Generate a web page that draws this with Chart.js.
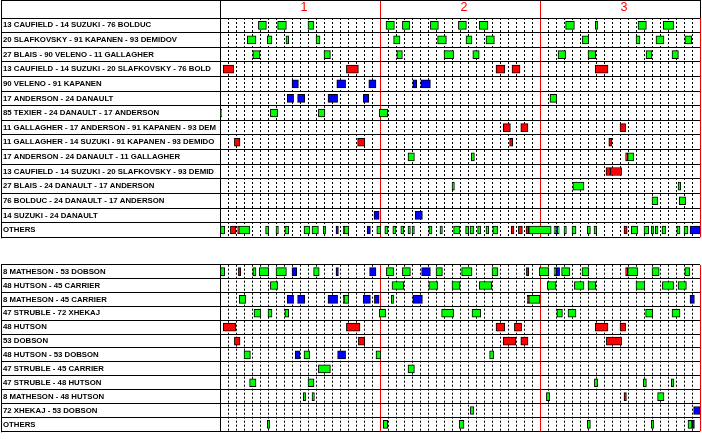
<!DOCTYPE html>
<html><head><meta charset="utf-8">
<script src="https://cdn.jsdelivr.net/npm/chart.js@4.4.0/dist/chart.umd.min.js"></script>
<style>
html,body{margin:0;padding:0;background:#fff;}
body{width:702px;height:439px;position:relative;overflow:hidden;}
canvas{position:absolute;left:0;}
#c1{top:0;} #c2{top:257px;}
</style></head><body>
<canvas id="c1" width="702" height="245"></canvas>
<canvas id="c2" width="702" height="182"></canvas>
<script>
// ---------- DATA ----------
const topRows = [
  '13 CAUFIELD - 14 SUZUKI - 76 BOLDUC',
  '20 SLAFKOVSKY - 91 KAPANEN - 93 DEMIDOV',
  '27 BLAIS - 90 VELENO - 11 GALLAGHER',
  '13 CAUFIELD - 14 SUZUKI - 20 SLAFKOVSKY - 76 BOLD',
  '90 VELENO - 91 KAPANEN',
  '17 ANDERSON - 24 DANAULT',
  '85 TEXIER - 24 DANAULT - 17 ANDERSON',
  '11 GALLAGHER - 17 ANDERSON - 91 KAPANEN - 93 DEM',
  '11 GALLAGHER - 14 SUZUKI - 91 KAPANEN - 93 DEMIDO',
  '17 ANDERSON - 24 DANAULT - 11 GALLAGHER',
  '13 CAUFIELD - 14 SUZUKI - 20 SLAFKOVSKY - 93 DEMID',
  '27 BLAIS - 24 DANAULT - 17 ANDERSON',
  '76 BOLDUC - 24 DANAULT - 17 ANDERSON',
  '14 SUZUKI - 24 DANAULT',
  'OTHERS'
];
const bottomRows = [
  '8 MATHESON - 53 DOBSON',
  '48 HUTSON - 45 CARRIER',
  '8 MATHESON - 45 CARRIER',
  '47 STRUBLE - 72 XHEKAJ',
  '48 HUTSON',
  '53 DOBSON',
  '48 HUTSON - 53 DOBSON',
  '47 STRUBLE - 45 CARRIER',
  '47 STRUBLE - 48 HUTSON',
  '8 MATHESON - 48 HUTSON',
  '72 XHEKAJ - 53 DOBSON',
  'OTHERS'
];
// [rowIndex, startMinute, endMinute]
const topEven = [
  [0,4.8,5.8],[0,7.2,8.3],[0,11.0,11.7],[0,20.75,21.8],[0,22.8,23.7],[0,26.3,27.3],[0,29.8,30.8],[0,32.4,33.5],[0,43.2,44.3],[0,46.9,47.2],[0,52.25,53.3],[0,55.4,56.7],
  [1,3.4,4.5],[1,5.9,6.5],[1,8.25,8.6],[1,12.0,12.5],[1,21.7,22.5],[1,27.2,28.3],[1,30.75,31.5],[1,33.25,34.3],[1,45.3,46.1],[1,52.0,52.5],[1,54.5,55.5],[1,58.1,58.96],
  [2,4.1,5.0],[2,13.0,13.8],[2,22.1,22.8],[2,28.0,29.2],[2,31.6,32.4],[2,42.25,43.2],[2,46.0,46.96],[2,53.25,54.0],[2,56.5,57.3],
  [5,41.25,42.1],
  [6,0,0.2],[6,6.3,7.2],[6,12.3,13.1],[6,19.9,20.96],
  [9,23.5,24.3],[9,31.4,31.8],[9,50.96,51.7],
  [11,29.0,29.3],[11,44.1,45.5],[11,57.25,57.6],
  [12,54.0,54.7],[12,57.4,58.2],
  [14,0,0.6],[14,2.35,3.7],[14,5.7,6.1],[14,7.0,7.3],[14,8.1,8.6],[14,10.5,11.2],[14,11.5,12.3],[14,12.9,13.2],[14,15.5,16.1],[14,19.6,20.1],
  [14,20.6,21.0],[14,21.6,22.0],[14,22.6,22.96],[14,23.5,23.8],[14,24.0,24.3],[14,26.1,26.5],[14,27.5,27.8],[14,29.2,30.0],[14,30.7,31.1],[14,31.25,31.7],
  [14,32.2,32.6],[14,33.25,33.6],[14,34.1,34.7],[14,38.6,41.4],[14,41.75,42.0],[14,42.2,42.4],[14,43.0,43.3],[14,44.0,44.5],[14,45.9,46.3],[14,46.75,47.1],
  [14,51.4,52.2],[14,53.0,53.6],[14,53.9,54.2],[14,54.4,54.75],[14,55.25,55.7],[14,57.1,57.5],[14,58.0,58.5]
];
const topPP = [
  [3,0.4,1.7],[3,15.8,17.3],[3,34.5,35.6],[3,36.5,37.5],[3,46.9,48.5],
  [7,35.4,36.3],[7,37.6,38.5],[7,50.0,50.7],
  [8,1.8,2.5],[8,17.2,18.1],[8,36.2,36.6],[8,48.6,49.0],
  [9,50.7,50.96],
  [10,48.25,48.8],[10,48.8,50.2],
  [14,1.3,2.0],[14,2.2,2.35],[14,36.4,36.75],[14,37.3,37.8],[14,38.25,38.6],[14,50.5,50.9]
];
const topPK = [
  [4,9.0,9.8],[4,14.6,15.7],[4,18.6,19.5],[4,24.1,24.6],[4,25.1,26.3],
  [5,8.4,9.2],[5,9.7,10.6],[5,13.5,14.7],[5,17.9,18.6],
  [13,19.25,19.9],[13,24.4,25.3],
  [14,14.5,14.8],[14,15.4,15.5],[14,18.4,18.8],[14,42.0,42.2],[14,58.75,60]
];
const bottomEven = [
  [0,0,0.6],[0,4.1,4.5],[0,4.9,6.1],[0,7.0,8.3],[0,11.7,12.4],[0,20.8,21.7],[0,22.8,23.8],[0,27.0,27.8],[0,30.2,31.5],[0,34.0,34.7],
  [0,39.9,41.1],[0,41.75,42.0],[0,42.7,43.7],[0,45.25,46.1],[0,50.96,52.2],[0,54.0,54.9],[0,58.1,58.7],
  [1,6.3,7.2],[1,21.5,22.96],[1,26.1,27.2],[1,29.0,30.0],[1,32.4,33.96],[1,40.9,42.0],[1,44.3,45.5],[1,46.0,46.96],[1,52.0,53.1],[1,55.3,56.7],[1,57.25,58.3],
  [2,2.4,3.2],[2,15.5,16.1],[2,21.4,21.7],[2,38.6,40.0],
  [3,4.25,5.1],[3,6.0,6.5],[3,8.1,8.6],[3,19.9,20.7],[3,27.7,29.2],[3,31.5,32.6],[3,42.1,42.8],[3,43.5,44.5],[3,53.2,54.1],[3,56.5,57.5],
  [6,3.0,3.8],[6,10.5,11.2],[6,19.5,20.1],[6,33.7,34.2],
  [7,12.3,13.8],[7,23.5,24.3],
  [8,3.7,4.5],[8,11.0,11.75],[8,46.8,47.2],[8,52.9,53.3],[8,56.4,56.7],
  [9,10.4,10.7],[9,11.5,11.8],[9,40.8,41.2],[9,54.7,55.5],
  [10,31.3,31.7],
  [11,5.9,6.2],[11,20.4,20.96],[11,29.9,30.5],[11,45.9,46.3],[11,53.9,54.2],[11,58.5,59.0]
];
const bottomPP = [
  [0,2.3,2.6],[0,38.3,38.6],[0,50.7,50.96],
  [2,38.4,38.6],
  [4,0.4,1.96],[4,15.8,17.5],[4,34.5,35.6],[4,36.8,37.7],[4,46.9,48.5],[4,50.0,50.7],
  [5,1.8,2.5],[5,17.3,18.1],[5,35.4,36.96],[5,37.6,38.5],[5,48.3,50.2],
  [9,50.5,50.8]
];
const bottomPK = [
  [0,9.0,9.6],[0,14.5,14.8],[0,18.7,19.5],[0,25.2,26.3],[0,42.0,42.45],
  [2,8.4,9.2],[2,9.7,10.6],[2,13.5,14.7],[2,15.4,15.5],[2,17.9,18.8],[2,19.3,19.9],[2,24.1,25.3],[2,58.75,59.3],
  [6,9.4,9.96],[6,14.7,15.7],
  [10,59.2,60],
  [11,59.0,59.3]
];
const minuteTicks = Array.from({length:61}, (_, i) => i);
const periodTicks = [0, 10, 20, 30, 40, 50, 60];
const periodLabels = ['', '1', '', '2', '', '3', ''];

// ---------- CHART ----------
const FONT = "'Liberation Sans', Arial, sans-serif";
Chart.defaults.font.family = FONT;

const framePlugin = {
  id: 'frame',
  afterDraw(chart, args, opts) {
    const {ctx, chartArea: a} = chart;
    const top = chart.scales.x2.top;
    ctx.save();
    ctx.strokeStyle = '#000';
    ctx.lineWidth = 1;
    ctx.beginPath();
    if (opts.header) {
      ctx.moveTo(1, top + 0.5); ctx.lineTo(701, top + 0.5);
    }
    ctx.moveTo(1.5, top); ctx.lineTo(1.5, a.bottom + 1);
    ctx.stroke();
    ctx.restore();
  }
};

function makeChart(id, rows, even, pp, pk, header) {
  const toData = list => list.map(([i, s, e]) => ({y: rows[i], x: [s, e]}));
  const ds = (list, color) => ({
    data: toData(list), backgroundColor: color, borderColor: '#000', borderWidth: 1,
    borderSkipped: false, barThickness: 8, grouped: false, xAxisID: 'x', yAxisID: 'y'
  });
  return new Chart(document.getElementById(id), {
    type: 'bar',
    data: {labels: rows, datasets: [ds(even, '#00ff00'), ds(pp, '#ff0000'), ds(pk, '#0000ff')]},
    options: {
      indexAxis: 'y', responsive: false, animation: false, devicePixelRatio: 1,
      layout: {padding: {left: 3, right: 2, top: header ? 0 : 1, bottom: header ? 2 : 1}},
      plugins: {legend: {display: false}, tooltip: {enabled: false}, frame: {header}},
      scales: {
        x: {
          type: 'linear', position: 'bottom', min: 0, max: 60,
          afterBuildTicks: s => { s.ticks = minuteTicks.map(v => ({value: v})); },
          afterFit: s => { s.height = 0; },
          ticks: {display: false},
          grid: {drawTicks: false, lineWidth: 1,
                 color: c => (c.tick && c.tick.value % 20 !== 0) ? '#000' : 'rgba(0,0,0,0)'},
          border: {display: false, dash: [2, 2]}
        },
        x2: {
          type: 'linear', position: 'top', min: 0, max: 60,
          afterBuildTicks: s => { s.ticks = periodTicks.map(v => ({value: v})); },
          afterFit: s => { s.height = header ? 18 : 0; },
          ticks: {display: header, autoSkip: false, maxRotation: 0, minRotation: 0, padding: -15, labelOffset: 4,
                  color: '#ff0000', font: {family: FONT, size: 12.5},
                  callback: (v, i) => periodLabels[i]},
          grid: {drawTicks: header, tickLength: 18, lineWidth: 1,
                 color: c => {
                   if (!c.tick) return 'rgba(0,0,0,0)';
                   const v = c.tick.value;
                   if (v === 0) return '#000';
                   if (v % 20 === 0) return '#ff0000';
                   return 'rgba(0,0,0,0)';
                 },
                 tickColor: c => {
                   if (!c.tick) return 'rgba(0,0,0,0)';
                   const v = c.tick.value;
                   if (v === 0 || v === 60) return '#000';
                   if (v % 20 === 0) return '#ff0000';
                   return 'rgba(0,0,0,0)';
                 }},
          border: {display: false}
        },
        y: {
          type: 'category', position: 'left', offset: true,
          afterFit: s => { s.width = 217; },
          ticks: {crossAlign: 'far', color: '#000', autoSkip: false,
                  font: {family: FONT, size: 7.8, weight: 'bold'}},
          grid: {offset: true, color: '#000', tickColor: '#000', tickLength: 219, lineWidth: 1},
          border: {display: true, color: '#000'}
        }
      }
    },
    plugins: [framePlugin]
  });
}

makeChart('c1', topRows, topEven, topPP, topPK, true);
makeChart('c2', bottomRows, bottomEven, bottomPP, bottomPK, false);
</script>
</body></html>
